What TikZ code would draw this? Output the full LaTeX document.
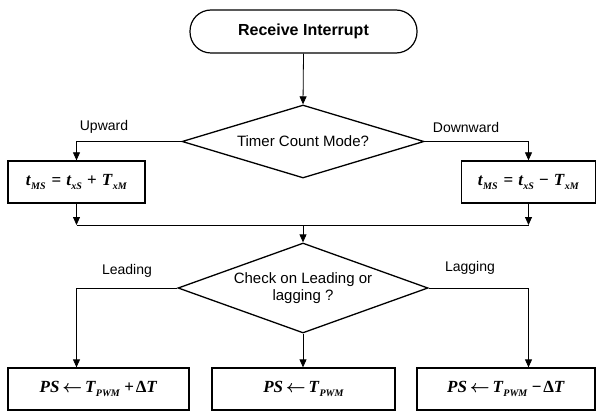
\documentclass[tikz,border=0pt]{standalone}
\usepackage{fontspec}
\setmainfont{Liberation Sans}
\newfontfamily\tnr{Liberation Serif}
\usetikzlibrary{shapes.geometric,arrows.meta}
\newcommand\fvar[2]{\textbf{\textit{#1}}\raisebox{-0.5ex}{\fontsize{10}{10}\selectfont\textbf{\textit{#2}}}}
\newcommand\larr{\,{\boldmath$\leftarrow$}\,}
\begin{document}
\begin{tikzpicture}[x=1pt,y=-1pt,
  conn/.style={line width=0.8pt,-{Triangle[length=8pt,width=7pt]}},
  plain/.style={line width=0.8pt},
  term/.style={draw,line width=1.2pt,rounded corners=21pt,minimum width=227pt,minimum height=43pt,inner sep=0pt,font=\fontsize{16}{16}\selectfont\bfseries},
  dec/.style={draw,diamond,line width=1.3pt,inner sep=0pt,font=\fontsize{15}{17}\selectfont,align=center},
  proc/.style={draw,rectangle,line width=1.3pt,minimum height=42pt,inner sep=0pt,font=\tnr\fontsize{17}{17}\selectfont},
  lab/.style={font=\fontsize{14}{14}\selectfont,inner sep=0pt}]
\useasboundingbox (0,0) rectangle (596,414);
\node[term] (start) at (303.5,31.5) {Receive Interrupt};
\node[dec,shape aspect=3.3,minimum width=242pt,minimum height=73pt] (d1) at (303,141.5) {Timer Count Mode?};
\node[proc,minimum width=137pt] (b1) at (76.5,182) {\fvar{t}{MS}\hspace{0.35em}\textbf{=}\hspace{0.3em}\fvar{t}{xS}\hspace{0.3em}\textbf{+}\hspace{0.3em}\fvar{T}{xM}};
\node[proc,minimum width=134pt] (b2) at (528.5,182) {\fvar{t}{MS}\hspace{0.35em}\textbf{=}\hspace{0.3em}\fvar{t}{xS}\hspace{0.3em}\textbf{−}\hspace{0.3em}\fvar{T}{xM}};
\coordinate (m) at (303,225);
\node[dec,shape aspect=2.8,minimum width=250pt,minimum height=90pt] (d2) at (303,288) {Check on Leading or\\lagging ?};
\node[proc,minimum width=181pt] (b3) at (98.5,389) {\textbf{\textit{PS}}\larr\fvar{T}{PWM}\hspace{0.25em}\textbf{+}\hspace{0.1em}\textbf{Δ}\textbf{\textit{T}}};
\node[proc,minimum width=183pt] (b4) at (303.5,389) {\textbf{\textit{PS}}\larr\fvar{T}{PWM}};
\node[proc,minimum width=178pt] (b5) at (506,389) {\textbf{\textit{PS}}\larr\fvar{T}{PWM}\hspace{0.25em}\textbf{−}\hspace{0.1em}\textbf{Δ}\textbf{\textit{T}}};
\node[lab] (up) at (104,127) {Upward};
\node[lab] (down) at (466,127) {Downward};
\node[lab] (lead) at (127,271) {Leading};
\node[lab] (lag) at (470,268) {Lagging};
\draw[conn] (start.south) -- (d1.north);
\draw[conn] (d1.west) -| (b1.north);
\draw[conn] (d1.east) -| (b2.north);
\draw[conn] (b1.south) -- (b1.south |- m);
\draw[conn] (b2.south) -- (b2.south |- m);
\draw[plain] (b1.south |- m) -- (b2.south |- m);
\draw[conn] (m) -- (d2.north);
\draw[conn] (d2.west) -| (b3.north -| b1.south);
\draw[conn] (d2.south) -- (b4.north -| d2.south);
\draw[conn] (d2.east) -| (b5.north -| b2.south);
\end{tikzpicture}
\end{document}
